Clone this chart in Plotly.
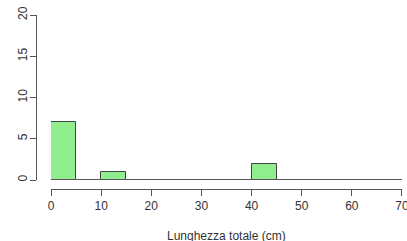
import plotly.graph_objects as go

bin_starts = [0, 5, 10, 15, 20, 25, 30, 35, 40, 45, 50, 55, 60, 65]
counts = [7, 0, 1, 0, 0, 0, 0, 0, 2, 0, 0, 0, 0, 0]
bin_width = 5
x_ticks = [0, 10, 20, 30, 40, 50, 60, 70]
y_ticks = [0, 5, 10, 15, 20]
x_title = "Lunghezza totale (cm)"

W, H = 407, 241
font = dict(family="Liberation Sans, Arial, sans-serif", size=12, color="#333333")

fig = go.Figure()
fig.add_trace(go.Bar(
    x=[b + bin_width / 2 for b in bin_starts],
    y=counts,
    width=[bin_width] * len(bin_starts),
    marker=dict(color="#90EE90", line=dict(color="#444444", width=1)),
    hoverinfo="skip",
))
# baseline of empty bins (zero-height rectangles in the reference)
fig.add_shape(type="line", xref="x", yref="y", x0=bin_starts[0], x1=bin_starts[-1] + bin_width,
              y0=0, y1=0, line=dict(color="#666666", width=1))

fig.add_annotation(text=x_title, xref="paper", yref="paper",
                   x=(51 + 402) / 2 / W, y=(H - 236) / H, yanchor="middle",
                   showarrow=False, font=font)

fig.update_layout(
    width=W, height=H,
    margin=dict(l=0, r=0, t=0, b=0, autoexpand=False),
    paper_bgcolor="white", plot_bgcolor="white",
    showlegend=False,
    bargap=0,
    font=font,
    xaxis=dict(
        domain=[51 / W, 402 / W],
        range=[0, 70.001],
        anchor="free", position=(H - 189) / H,
        automargin=False,
        showgrid=False, zeroline=False,
        showline=True, linecolor="#555555", linewidth=1,
        ticks="outside", ticklen=6, tickcolor="#555555",
        tickvals=x_ticks, ticktext=[str(v) for v in x_ticks],
        ticklabeloverflow="allow",
    ),
    yaxis=dict(
        domain=[(H - 180) / H, (H - 15) / H],
        range=[0, 20],
        anchor="free", position=36 / W,
        automargin=False,
        showgrid=False, zeroline=False,
        showline=True, linecolor="#555555", linewidth=1,
        ticks="outside", ticklen=6, tickcolor="#555555",
        tickvals=y_ticks, ticktext=[str(v) for v in y_ticks],
        tickangle=-90,
        ticklabeloverflow="allow",
        ticklabelstandoff=-2,
    ),
)

fig.write_html("out.html", config={"displayModeBar": False},
               post_script="document.body.style.margin='0px';document.body.style.overflow='hidden';")
